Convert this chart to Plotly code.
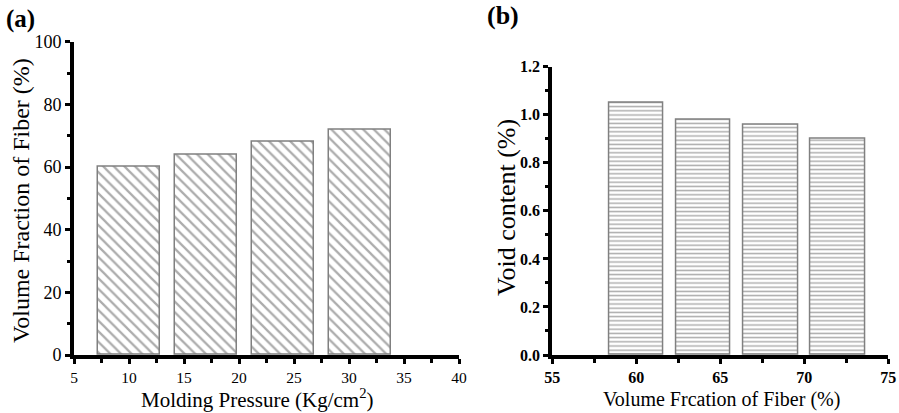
import plotly.graph_objects as go

# Panel (a): fiber volume fraction vs molding pressure
pressure = [10, 17, 24, 31]
fiber_fraction = [60, 64, 68, 72]

# Panel (b): void content vs fiber volume fraction
fiber_x = [60, 64, 68, 72]
void_content = [1.05, 0.98, 0.96, 0.90]

W, H = 899, 413
SERIF = "Liberation Serif, Times New Roman, serif"
BAR_EDGE = "#808080"
HATCH = "#5a5a5a"


def px_x(p):
    return p / W


def px_y(p):
    return 1 - p / H


fig = go.Figure()

fig.add_trace(go.Bar(
    x=pressure, y=fiber_fraction, width=5.6,
    marker=dict(color="white", line=dict(color=BAR_EDGE, width=1.5),
                pattern=dict(shape="\\", fgcolor=HATCH, bgcolor="white",
                             size=7.5, solidity=0.3, fillmode="overlay")),
    xaxis="x", yaxis="y", showlegend=False,
))

fig.add_trace(go.Bar(
    x=fiber_x, y=void_content, width=3.24,
    marker=dict(color="white", line=dict(color=BAR_EDGE, width=1.5),
                pattern=dict(shape="-", fgcolor=HATCH, bgcolor="white",
                             size=4.2, solidity=0.35, fillmode="overlay")),
    xaxis="x2", yaxis="y2", showlegend=False,
))


def axis_style(**kw):
    base = dict(
        showgrid=False, zeroline=False, showline=True, linecolor="black",
        linewidth=4, ticks="outside", ticklen=5, tickwidth=2.5,
        tickcolor="black", mirror=False, automargin=False,
    )
    base.update(kw)
    return base


def minor_style(step):
    return dict(dtick=step, ticks="outside", ticklen=3.5, tickwidth=2.5,
                tickcolor="black", showgrid=False)


fig.update_layout(
    width=W, height=H,
    margin=dict(l=0, r=0, t=0, b=0),
    paper_bgcolor="white", plot_bgcolor="white",
    font=dict(family=SERIF, color="black"),
    bargap=0,
    xaxis=axis_style(
        domain=[px_x(74), px_x(459)], anchor="y",
        range=[5, 40], tickmode="linear", tick0=5, dtick=5,
        tickfont=dict(family=SERIF, size=15.5, color="black"),
        minor=minor_style(2.5),
    ),
    yaxis=axis_style(
        domain=[px_y(355), px_y(41.7)], anchor="x",
        range=[0, 100], tickmode="linear", tick0=0, dtick=20,
        tickfont=dict(family=SERIF, size=18, color="black"),
        minor=minor_style(10),
    ),
    xaxis2=axis_style(
        domain=[px_x(552.3), px_x(888.3)], anchor="y2",
        range=[55, 75], tickmode="linear", tick0=55, dtick=5,
        tickfont=dict(family=SERIF, size=16, weight="bold", color="black"),
        minor=minor_style(2.5),
    ),
    yaxis2=axis_style(
        domain=[px_y(355), px_y(66.7)], anchor="x2",
        range=[0, 1.2], tickmode="linear", tick0=0, dtick=0.2,
        tickformat=".1f",
        tickfont=dict(family=SERIF, size=16, weight="bold", color="black"),
        minor=minor_style(0.1),
    ),
)

annotations = [
    dict(text="<b>(a)</b>", x=px_x(20), y=px_y(19), font=dict(size=25)),
    dict(text="<b>(b)</b>", x=px_x(503), y=px_y(16), font=dict(size=26)),
    dict(text="Molding Pressure (Kg/cm<sup>2</sup>)", x=px_x(257), y=px_y(398),
         font=dict(size=21)),
    dict(text="Volume Fraction of Fiber (%)", x=px_x(21), y=px_y(201),
         textangle=-90, font=dict(size=24)),
    dict(text="Volume Frcation of Fiber (%)", x=px_x(721), y=px_y(399),
         font=dict(size=20)),
    dict(text="Void content (%)", x=px_x(506), y=px_y(208),
         textangle=-90, font=dict(size=26)),
]
for a in annotations:
    a.update(xref="paper", yref="paper", showarrow=False,
             xanchor="center", yanchor="middle")
    a["font"].update(family=SERIF, color="black")
fig.update_layout(annotations=annotations)

fig.write_html("out.html")
